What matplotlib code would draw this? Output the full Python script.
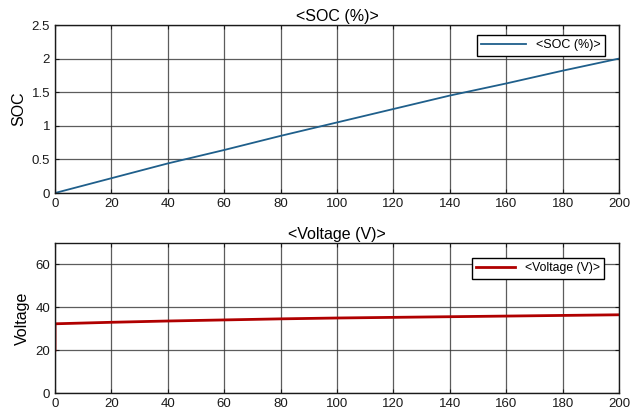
import matplotlib
matplotlib.use("Agg")
import matplotlib.pyplot as plt

plt.rcParams['font.family'] = ['Liberation Sans', 'DejaVu Sans']

time = [0, 0.01, 20, 40, 60, 80, 100, 120, 140, 160, 180, 200]
soc = [0, 0.0, 0.22, 0.44, 0.64, 0.85, 1.05, 1.25, 1.45, 1.63, 1.82, 2.0]
volt_time = [0, 0.01, 20, 40, 60, 80, 100, 120, 140, 160, 180, 200]
voltage = [20, 32.3, 33.0, 33.6, 34.1, 34.6, 35.0, 35.3, 35.6, 35.9, 36.2, 36.5]

xticks = [0, 20, 40, 60, 80, 100, 120, 140, 160, 180, 200]
soc_ticks = [0, 0.5, 1, 1.5, 2, 2.5]
volt_ticks = [0, 20, 40, 60]

R = 619
fig = plt.figure(figsize=(6.31, 4.17), dpi=100)
ax1 = fig.add_axes([55/631, 1-193/417, (R-55)/631, (193-25)/417])
ax2 = fig.add_axes([55/631, 1-393/417, (R-55)/631, (393-243)/417])
W = R - 55

def style(ax):
    ax.grid(True, color='#333333', linewidth=0.9, alpha=0.8)
    ax.set_axisbelow(True)
    ax.tick_params(direction='in', length=3, labelsize=9.5, colors='#1a1a1a', top=True, right=True)
    for s in ax.spines.values():
        s.set_color('#1a1a1a')
        s.set_linewidth(1.0)
    ax.set_xlim(0, 200)
    ax.set_xticks(xticks)

ax1.plot(time, soc, color='#1f5f8b', linewidth=1.3, label='<SOC (%)>')
style(ax1)
ax1.set_ylim(0, 2.5)
ax1.set_yticks(soc_ticks)
ax1.set_yticklabels(['0', '0.5', '1', '1.5', '2', '2.5'])
ax1.set_ylabel('SOC', fontsize=11.5, labelpad=4)
ax1.set_title('<SOC (%)>', fontsize=11.5, pad=3)
leg1 = ax1.legend(loc='upper right', bbox_to_anchor=(1-14/W, 1-10/168), borderaxespad=0,
                  fontsize=9, fancybox=False, edgecolor='black',
                  framealpha=1, handlelength=3.6, borderpad=0.35)
leg1.get_frame().set_linewidth(1.0)

ax2.plot(volt_time, voltage, color='#b00000', linewidth=2.0, label='<Voltage (V)>')
style(ax2)
ax2.set_ylim(0, 70)
ax2.set_yticks(volt_ticks)
ax2.set_ylabel('Voltage', fontsize=11.5, labelpad=4)
ax2.set_title('<Voltage (V)>', fontsize=11.5, pad=3)
leg2 = ax2.legend(loc='upper right', bbox_to_anchor=(1-15/W, 1-15/150), borderaxespad=0,
                  fontsize=8.8, fancybox=False, edgecolor='black',
                  framealpha=1, handlelength=3.2, borderpad=0.35)
leg2.get_frame().set_linewidth(1.0)

fig.savefig('out.png', dpi=100)
